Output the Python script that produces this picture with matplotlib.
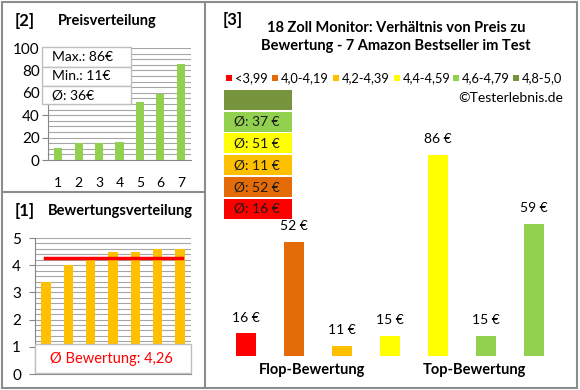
import matplotlib
matplotlib.use("Agg")
import matplotlib.pyplot as plt
from matplotlib.patches import Rectangle
import numpy as np

plt.rcParams['font.family'] = ['Lato', 'DejaVu Sans']

# ---------------- data ----------------
price_dist = [11, 15, 15, 16, 52, 59, 86]
price_ticks = ['1', '2', '3', '4', '5', '6', '7']
price_stats = ['Max.: 86€', 'Min.: 11€', 'Ø: 36€']

rating_dist = [3.4, 4.0, 4.2, 4.5, 4.5, 4.6, 4.6]
rating_avg = 4.26
rating_avg_label = 'Ø Bewertung: 4,26'

prices = [16, 52, 11, 15, 86, 15, 59]
price_labels = ['16 €', '52 €', '11 €', '15 €', '86 €', '15 €', '59 €']
bar_colors = ['#FF0000', '#E36C09', '#FFC000', '#FFFF00', '#FFFF00', '#92D050', '#92D050']

legend_labels = ['<3,99', '4,0-4,19', '4,2-4,39', '4,4-4,59', '4,6-4,79', '4,8-5,0']
legend_colors = ['#FF0000', '#E36C09', '#FFC000', '#FFFF00', '#92D050', '#77933C']

avg_labels = ['', 'Ø: 37 €', 'Ø: 51 €', 'Ø: 11 €', 'Ø: 52 €', 'Ø: 16 €']
avg_colors = ['#77933C', '#92D050', '#FFFF00', '#FFC000', '#E36C09', '#FF0000']

title = '18 Zoll Monitor: Verhältnis von Preis zu\nBewertung - 7 Amazon Bestseller im Test'
group_labels = ['Flop-Bewertung', 'Top-Bewertung']

# ---------------- figure ----------------
W, H = 580, 390
fig = plt.figure(figsize=(W / 100, H / 100), dpi=100)
fig.patch.set_facecolor('white')


def fx(x):
    return x / W


def fy(y):
    return 1 - y / H


def ax_rect(x0, y0, x1, y1):
    return [fx(x0), fy(y1), (x1 - x0) / W, (y1 - y0) / H]


border = '#8C8C8C'
# panel borders
fig.patches.append(Rectangle((fx(1.5), fy(388)), (577 - 1.5) / W, (388 - 1.5) / H,
                             transform=fig.transFigure, fill=False, ec=border, lw=1.5))
fig.lines.append(plt.Line2D([fx(205), fx(205)], [fy(1.5), fy(388)], transform=fig.transFigure,
                            color=border, lw=1.5))
fig.lines.append(plt.Line2D([fx(1.5), fx(205)], [fy(192), fy(192)], transform=fig.transFigure,
                            color=border, lw=1.5))

grid_c = '#A6A6A6'
axis_c = '#868686'

# ---------------- top-left: Preisverteilung ----------------
ax1 = fig.add_axes(ax_rect(48, 48, 191, 160))
x = np.arange(len(price_dist))
ax1.bar(x, price_dist, width=0.4, color='#92D050', zorder=3)
ax1.set_xlim(-0.5, len(price_dist) - 0.5)
ax1.set_ylim(0, 100)
ax1.set_yticks(np.arange(0, 101, 20))
ax1.set_yticks(np.arange(0, 101, 5), minor=True)
ax1.yaxis.grid(True, which='both', color=grid_c, lw=0.8, zorder=0)
ax1.set_xticks(x)
ax1.set_xticklabels(price_ticks)
ax1.tick_params(axis='x', length=0, pad=12, labelsize=10)
ax1.tick_params(axis='y', which='major', length=4, color=axis_c, labelsize=11, pad=2)
ax1.tick_params(axis='y', which='minor', length=0)
for s in ['top', 'right']:
    ax1.spines[s].set_visible(False)
for s in ['left', 'bottom']:
    ax1.spines[s].set_color(axis_c)

fig.text(fx(15), fy(21), '[2]', fontsize=12, fontweight='bold', va='center', ha='left')
fig.text(fx(58), fy(21), 'Preisverteilung', fontsize=10.5, fontweight='bold', va='center', ha='left')

# stats box
bx0, bx1 = 42, 131
rows = [(47, 67), (67, 86), (86, 104)]
for (r0, r1), lab in zip(rows, price_stats):
    fig.patches.append(Rectangle((fx(bx0), fy(r1)), (bx1 - bx0) / W, (r1 - r0) / H,
                                 transform=fig.transFigure, fc='white', ec='#BFBFBF', lw=1, zorder=5))
    fig.text(fx(52), fy((r0 + r1) / 2), lab, fontsize=10, va='center', ha='left', zorder=6)

# ---------------- bottom-left: Bewertungsverteilung ----------------
ax2 = fig.add_axes(ax_rect(35, 238, 191, 374))
x2 = np.arange(len(rating_dist))
ax2.bar(x2, rating_dist, width=0.42, color='#FFC000', zorder=3)
ax2.plot([x2[0] - 0.05, x2[-1] + 0.1], [rating_avg, rating_avg], color='#FF0000', lw=2.5, zorder=4)
ax2.set_xlim(-0.5, len(rating_dist) - 0.5)
ax2.set_ylim(0, 5)
ax2.set_yticks(np.arange(0, 6, 1))
ax2.set_yticks(np.arange(0, 5.01, 0.2), minor=True)
ax2.yaxis.grid(True, which='both', color=grid_c, lw=0.8, zorder=0)
ax2.set_xticks([])
ax2.tick_params(axis='y', which='major', length=4, color=axis_c, labelsize=11, pad=6)
ax2.tick_params(axis='y', which='minor', length=0)
for s in ['top', 'right']:
    ax2.spines[s].set_visible(False)
for s in ['left', 'bottom']:
    ax2.spines[s].set_color(axis_c)

fig.patches.append(Rectangle((fx(35), fy(373)), (191 - 35) / W, (373 - 344) / H,
                             transform=fig.transFigure, fc='white', ec='#BFBFBF', lw=1, zorder=5))
fig.text(fx(111), fy(359), rating_avg_label, fontsize=10.5, color='#FF0000', va='center', ha='center', zorder=6)

fig.text(fx(15), fy(211), '[1]', fontsize=12, fontweight='bold', va='center', ha='left')
fig.text(fx(48), fy(211), 'Bewertungsverteilung', fontsize=10.5, fontweight='bold', va='center', ha='left')

# ---------------- right: main chart ----------------
ax3 = fig.add_axes(ax_rect(222, 89, 558, 356))
x3 = np.arange(len(prices))
ax3.bar(x3, prices, width=0.4, color=bar_colors, zorder=3)
for xi, v, lab in zip(x3, prices, price_labels):
    ax3.annotate(lab, (xi, v), xytext=(0, 7), textcoords='offset points',
                 ha='center', va='bottom', fontsize=10)
ax3.set_xlim(-0.5, len(prices) - 0.5)
ax3.set_ylim(7.07, 112)
ax3.axis('off')

fig.text(fx(223), fy(20), '[3]', fontsize=12, fontweight='bold', va='center', ha='left')
fig.text(fx(396), fy(37), title, fontsize=10.5, fontweight='bold', va='center', ha='center',
         linespacing=1.45)

# legend
leg_x = [226, 272, 333, 394, 453, 513]
for lx, lab, c in zip(leg_x, legend_labels, legend_colors):
    fig.patches.append(Rectangle((fx(lx), fy(81)), 6 / W, 6 / H, transform=fig.transFigure,
                                 fc=c, ec='none'))
    fig.text(fx(lx + 9), fy(78), lab, fontsize=9.3, va='center', ha='left')

fig.text(fx(563), fy(98), '©Testerlebnis.de', fontsize=10, va='center', ha='right')

# average boxes
box_top = 90
box_h = 20
gap = 1.75
for i, (lab, c) in enumerate(zip(avg_labels, avg_colors)):
    y0 = box_top + i * (box_h + gap)
    fig.patches.append(Rectangle((fx(224), fy(y0 + box_h)), (292 - 224) / W, box_h / H,
                                 transform=fig.transFigure, fc=c, ec='none'))
    if lab:
        fig.text(fx(234), fy(y0 + box_h / 2), lab, fontsize=10, va='center', ha='left', color='#1a1a1a')

fig.text(fx(312), fy(370), group_labels[0], fontsize=10.5, fontweight='bold', va='center', ha='center')
fig.text(fx(474), fy(370), group_labels[1], fontsize=10.5, fontweight='bold', va='center', ha='center')

fig.savefig('out.png', dpi=100, facecolor='white')
